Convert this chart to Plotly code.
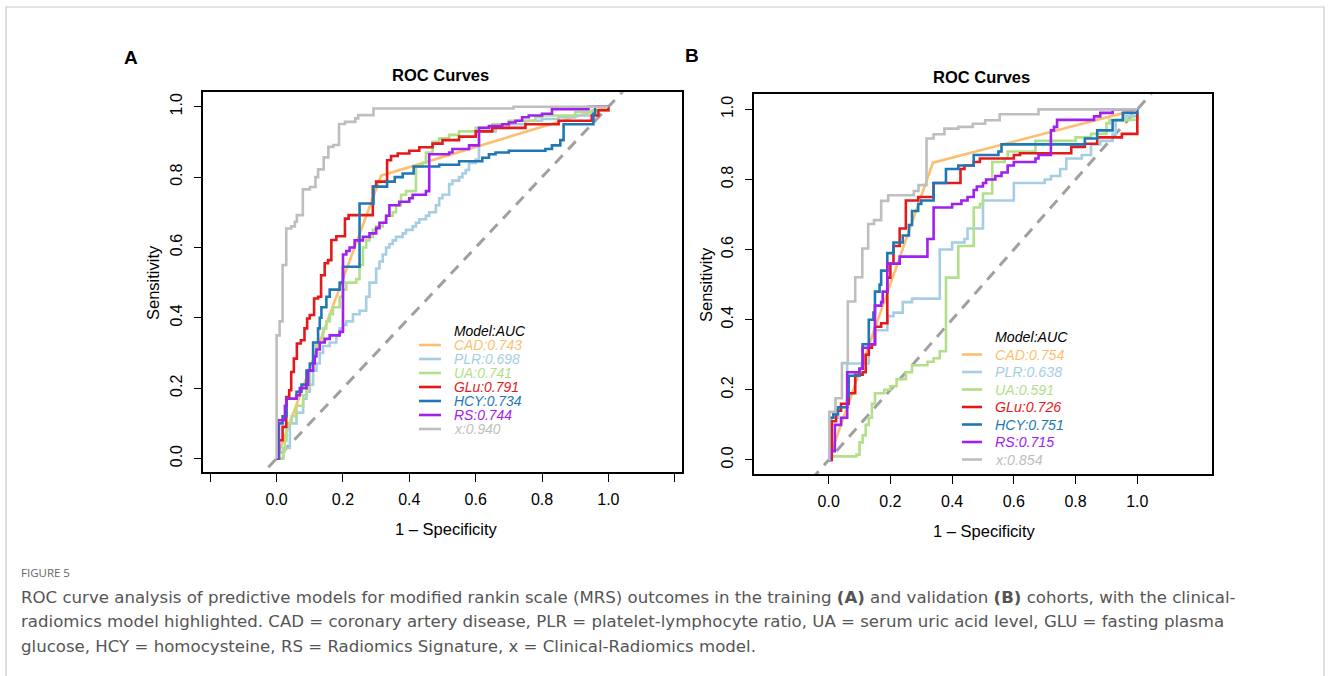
import plotly.graph_objects as go

W, H = 1330, 676

MODELS = ["CAD", "PLR", "UA", "GLu", "HCY", "RS", "x"]
COLORS = ["#FDBF6F", "#A6CEE3", "#B2DF8A", "#E31A1C", "#1F78B4", "#A020F0", "#BEBEBE"]
AUC_A = [0.743, 0.698, 0.741, 0.791, 0.734, 0.744, 0.940]
AUC_B = [0.754, 0.638, 0.591, 0.726, 0.751, 0.715, 0.854]

# Panel A (training) ROC vertices (1-specificity, sensitivity)
A_CAD = [(0, 0), (0.315, 0.804), (1, 1)]
A_PLR = [(0, 0), (0.02, 0.03), (0.04, 0.10), (0.06, 0.13), (0.08, 0.17), (0.09, 0.19), (0.10, 0.21),
         (0.11, 0.25), (0.12, 0.27), (0.13, 0.30), (0.14, 0.32), (0.16, 0.33), (0.18, 0.35), (0.19, 0.37),
         (0.20, 0.38), (0.21, 0.39), (0.23, 0.41), (0.25, 0.42), (0.27, 0.46), (0.28, 0.50), (0.30, 0.54),
         (0.31, 0.56), (0.32, 0.58), (0.33, 0.60), (0.34, 0.61), (0.35, 0.62), (0.36, 0.63), (0.38, 0.64),
         (0.39, 0.65), (0.41, 0.66), (0.42, 0.67), (0.43, 0.68), (0.45, 0.69), (0.46, 0.70), (0.48, 0.72),
         (0.49, 0.74), (0.50, 0.75), (0.52, 0.78), (0.53, 0.79), (0.55, 0.80), (0.56, 0.81), (0.57, 0.82),
         (0.58, 0.84), (0.60, 0.85), (0.61, 0.93), (0.66, 0.94), (0.70, 0.95), (0.75, 0.96), (0.80, 0.965),
         (0.85, 0.97), (0.90, 0.975), (0.95, 0.98), (0.96, 0.99), (1.0, 1.0)]
A_UA = [(0, 0), (0.02, 0.02), (0.025, 0.05), (0.03, 0.10), (0.045, 0.12), (0.06, 0.15), (0.08, 0.18),
        (0.09, 0.20), (0.10, 0.25), (0.11, 0.30), (0.12, 0.33), (0.14, 0.37), (0.15, 0.39), (0.16, 0.41),
        (0.17, 0.43), (0.19, 0.46), (0.20, 0.48), (0.21, 0.50), (0.24, 0.51), (0.25, 0.55), (0.26, 0.60),
        (0.27, 0.62), (0.28, 0.63), (0.29, 0.65), (0.30, 0.66), (0.32, 0.67), (0.33, 0.69), (0.35, 0.70),
        (0.36, 0.72), (0.375, 0.75), (0.39, 0.76), (0.42, 0.83), (0.44, 0.84), (0.45, 0.87), (0.47, 0.90),
        (0.49, 0.91), (0.52, 0.92), (0.55, 0.93), (0.60, 0.94), (0.65, 0.95), (0.70, 0.96), (0.78, 0.97),
        (0.80, 0.975), (0.90, 0.985), (0.95, 0.99), (1.0, 1.0)]
A_GLU = [(0, 0), (0.007, 0.052), (0.018, 0.09), (0.029, 0.175), (0.038, 0.194), (0.044, 0.246),
         (0.052, 0.284), (0.061, 0.327), (0.073, 0.336), (0.084, 0.37), (0.092, 0.398), (0.100, 0.408),
         (0.113, 0.455), (0.125, 0.46), (0.134, 0.521), (0.145, 0.555), (0.155, 0.564), (0.165, 0.621),
         (0.180, 0.632), (0.206, 0.682), (0.217, 0.692), (0.290, 0.773), (0.300, 0.787), (0.333, 0.848),
         (0.345, 0.86), (0.365, 0.867), (0.40, 0.875), (0.43, 0.885), (0.47, 0.895), (0.50, 0.905),
         (0.55, 0.915), (0.60, 0.93), (0.65, 0.94), (0.75, 0.95), (0.85, 0.96), (0.95, 0.975),
         (0.97, 0.99), (1.0, 1.0)]
A_HCY = [(0, 0), (0.007, 0.10), (0.018, 0.12), (0.030, 0.17), (0.060, 0.19), (0.075, 0.21), (0.090, 0.25),
         (0.100, 0.27), (0.110, 0.33), (0.125, 0.37), (0.130, 0.40), (0.135, 0.43), (0.150, 0.46),
         (0.160, 0.48), (0.190, 0.50), (0.200, 0.545), (0.250, 0.725), (0.292, 0.773), (0.333, 0.787),
         (0.356, 0.80), (0.380, 0.81), (0.413, 0.83), (0.49, 0.835), (0.55, 0.845), (0.62, 0.855),
         (0.64, 0.865), (0.66, 0.87), (0.70, 0.875), (0.81, 0.88), (0.83, 0.89), (0.855, 0.905),
         (0.865, 0.95), (0.955, 0.98), (0.96, 1.0), (1.0, 1.0)]
A_RS = [(0, 0), (0.003, 0.109), (0.02, 0.11), (0.025, 0.15), (0.03, 0.17), (0.06, 0.18), (0.07, 0.20),
        (0.09, 0.21), (0.095, 0.25), (0.11, 0.27), (0.115, 0.29), (0.12, 0.31), (0.13, 0.33), (0.145, 0.34),
        (0.16, 0.35), (0.19, 0.36), (0.20, 0.58), (0.21, 0.59), (0.22, 0.60), (0.235, 0.62), (0.26, 0.63),
        (0.28, 0.64), (0.30, 0.655), (0.31, 0.67), (0.33, 0.69), (0.34, 0.72), (0.37, 0.73), (0.40, 0.74),
        (0.41, 0.75), (0.45, 0.76), (0.46, 0.865), (0.52, 0.87), (0.53, 0.88), (0.58, 0.89), (0.61, 0.94),
        (0.64, 0.945), (0.68, 0.95), (0.70, 0.955), (0.72, 0.96), (0.74, 0.97), (0.76, 0.975), (0.80, 0.98),
        (0.83, 0.993), (0.94, 1.0), (1.0, 1.0)]
A_X = [(0, 0), (0, 0.35), (0.009, 0.39), (0.018, 0.55), (0.029, 0.654), (0.044, 0.66), (0.055, 0.673),
       (0.061, 0.692), (0.079, 0.765), (0.10, 0.772), (0.117, 0.80), (0.125, 0.822), (0.142, 0.856),
       (0.156, 0.886), (0.171, 0.891), (0.188, 0.951), (0.206, 0.957), (0.237, 0.967), (0.246, 0.976),
       (0.292, 0.995), (0.714, 1.0), (1.0, 1.0)]

# Panel B (validation)
B_CAD = [(0, 0), (0.338, 0.848), (1, 1)]
B_PLR = [(0, 0), (0.01, 0.12), (0.03, 0.15), (0.06, 0.275), (0.13, 0.33), (0.15, 0.37), (0.19, 0.38),
         (0.19, 0.41), (0.21, 0.42), (0.24, 0.45), (0.27, 0.46), (0.36, 0.47), (0.36, 0.60), (0.40, 0.62),
         (0.44, 0.63), (0.45, 0.66), (0.50, 0.67), (0.50, 0.74), (0.60, 0.75), (0.60, 0.79), (0.70, 0.80),
         (0.72, 0.81), (0.75, 0.83), (0.77, 0.86), (0.82, 0.87), (0.85, 0.90), (0.88, 0.91), (0.92, 0.93),
         (0.93, 0.97), (0.96, 0.98), (1.0, 1.0)]
B_UA = [(0, 0), (0.005, 0.01), (0.09, 0.015), (0.10, 0.05), (0.11, 0.07), (0.12, 0.10), (0.13, 0.12),
        (0.14, 0.16), (0.15, 0.19), (0.18, 0.20), (0.20, 0.21), (0.22, 0.23), (0.25, 0.25), (0.27, 0.27),
        (0.32, 0.28), (0.34, 0.29), (0.36, 0.31), (0.38, 0.32), (0.38, 0.52), (0.42, 0.55), (0.42, 0.61),
        (0.47, 0.63), (0.47, 0.72), (0.49, 0.73), (0.50, 0.76), (0.53, 0.77), (0.53, 0.85), (0.57, 0.86),
        (0.58, 0.88), (0.67, 0.89), (0.67, 0.91), (0.79, 0.91), (0.80, 0.92), (0.85, 0.93), (0.90, 0.96),
        (0.91, 0.97), (1.0, 0.97), (1.0, 1.0)]
B_GLU = [(0, 0), (0.01, 0.11), (0.024, 0.14), (0.04, 0.16), (0.065, 0.19), (0.086, 0.243), (0.11, 0.25),
         (0.12, 0.30), (0.13, 0.32), (0.14, 0.33), (0.15, 0.38), (0.17, 0.39), (0.19, 0.40), (0.19, 0.52),
         (0.20, 0.56), (0.21, 0.61), (0.23, 0.66), (0.25, 0.74), (0.29, 0.75), (0.34, 0.79), (0.427, 0.83),
         (0.44, 0.84), (0.47, 0.85), (0.49, 0.86), (0.60, 0.87), (0.62, 0.875), (0.786, 0.893),
         (0.83, 0.902), (0.87, 0.92), (0.95, 0.93), (1.0, 0.99)]
B_HCY = [(0, 0), (0.002, 0.12), (0.015, 0.13), (0.03, 0.15), (0.06, 0.18), (0.065, 0.24), (0.10, 0.26),
         (0.11, 0.33), (0.13, 0.35), (0.13, 0.40), (0.145, 0.42), (0.15, 0.48), (0.165, 0.50), (0.17, 0.54),
         (0.19, 0.55), (0.19, 0.59), (0.21, 0.62), (0.24, 0.64), (0.26, 0.67), (0.27, 0.71), (0.29, 0.73),
         (0.30, 0.74), (0.34, 0.76), (0.34, 0.79), (0.38, 0.80), (0.38, 0.83), (0.42, 0.84), (0.47, 0.85),
         (0.47, 0.87), (0.55, 0.88), (0.56, 0.90), (0.83, 0.917), (0.87, 0.94), (0.92, 0.969),
         (0.953, 0.99), (1.0, 1.0)]
B_RS = [(0, 0), (0.005, 0.025), (0.02, 0.10), (0.04, 0.12), (0.06, 0.25), (0.10, 0.26), (0.11, 0.32),
        (0.13, 0.33), (0.15, 0.35), (0.15, 0.44), (0.17, 0.45), (0.175, 0.48), (0.19, 0.50), (0.19, 0.56),
        (0.23, 0.58), (0.32, 0.58), (0.32, 0.63), (0.34, 0.63), (0.34, 0.72), (0.40, 0.73), (0.43, 0.74),
        (0.45, 0.75), (0.47, 0.77), (0.48, 0.78), (0.50, 0.79), (0.51, 0.80), (0.54, 0.81), (0.56, 0.82),
        (0.58, 0.84), (0.60, 0.85), (0.67, 0.86), (0.68, 0.87), (0.72, 0.90), (0.72, 0.94), (0.73, 0.95),
        (0.74, 0.97), (0.86, 0.98), (0.88, 0.99), (0.92, 1.0), (1.0, 1.0)]
B_X = [(0, 0), (0.002, 0.137), (0.022, 0.176), (0.043, 0.276), (0.062, 0.452), (0.086, 0.521),
       (0.109, 0.603), (0.128, 0.673), (0.147, 0.684), (0.17, 0.739), (0.193, 0.755), (0.276, 0.767),
       (0.291, 0.784), (0.317, 0.917), (0.34, 0.929), (0.375, 0.945), (0.42, 0.95), (0.467, 0.959),
       (0.507, 0.969), (0.554, 0.986), (0.68, 1.0), (1.0, 1.0)]

CURVES_A = [A_CAD, A_PLR, A_UA, A_GLU, A_HCY, A_RS, A_X]
CURVES_B = [B_CAD, B_PLR, B_UA, B_GLU, B_HCY, B_RS, B_X]

X_TICKS_A = [-0.2, 0.0, 0.2, 0.4, 0.6, 0.8, 1.0, 1.2]
X_TICKS_B = [0.0, 0.2, 0.4, 0.6, 0.8, 1.0]
Y_TICKS = [0.0, 0.2, 0.4, 0.6, 0.8, 1.0]
DIAG = [-0.3, 1.3]

CAPTION_LABEL = "FIGURE 5"
CAPTION_LINES = [
    "ROC curve analysis of predictive models for modified rankin scale (MRS) outcomes in the training <b>(A)</b> and validation <b>(B)</b> cohorts, with the clinical-",
    "radiomics model highlighted. CAD = coronary artery disease, PLR = platelet-lymphocyte ratio, UA = serum uric acid level, GLU = fasting plasma",
    "glucose, HCY = homocysteine, RS = Radiomics Signature, x = Clinical-Radiomics model.",
]


def fx(px):
    return px / W


def fy(py):
    return 1 - py / H


FONT = "Liberation Sans, Arial, Helvetica, sans-serif"
fig = go.Figure()

for xa, ya, curves in [("x", "y", CURVES_A), ("x2", "y2", CURVES_B)]:
    fig.add_trace(go.Scatter(x=DIAG, y=DIAG, mode="lines", xaxis=xa, yaxis=ya,
                             line=dict(color="#A0A0A0", width=3, dash="11px,8px"),
                             showlegend=False, hoverinfo="skip"))
    for name, color, pts in zip(MODELS, COLORS, curves):
        xs = [p[0] for p in pts]
        ys = [p[1] for p in pts]
        shape = "linear" if name == "CAD" else "hv"
        fig.add_trace(go.Scatter(x=xs, y=ys, mode="lines", xaxis=xa, yaxis=ya, name=name,
                                 line=dict(color=color, width=2.6, shape=shape),
                                 showlegend=False))

axis_common = dict(showline=True, linecolor="black", linewidth=1.5, mirror=True,
                   ticks="outside", ticklen=8, tickwidth=1.2, tickcolor="black",
                   showgrid=False, zeroline=False,
                   tickfont=dict(family=FONT, size=16, color="black"))


def fmt(v):
    return f"{v:.1f}"


fig.update_layout(
    width=W, height=H, margin=dict(l=0, r=0, t=0, b=0),
    paper_bgcolor="white", plot_bgcolor="white", showlegend=False,
    xaxis=dict(domain=[fx(203.3), fx(681.7)], range=[-0.221, 1.221], anchor="y",
               tickvals=X_TICKS_A, ticktext=[fmt(v) if 0 <= v <= 1 else "" for v in X_TICKS_A],
               ticklabelstandoff=4, **axis_common),
    yaxis=dict(domain=[fy(471.9), fy(92.3)], range=[-0.038, 1.041], anchor="x",
               tickvals=Y_TICKS, ticktext=[fmt(v) for v in Y_TICKS], tickangle=-90,
               ticklabelstandoff=5, **axis_common),
    xaxis2=dict(domain=[fx(754.3), fx(1212.3)], range=[-0.241, 1.243], anchor="y2",
                tickvals=X_TICKS_B, ticktext=[fmt(v) for v in X_TICKS_B],
                ticklabelstandoff=4, **axis_common),
    yaxis2=dict(domain=[fy(473.9), fy(94.3)], range=[-0.040, 1.043], anchor="x2",
                tickvals=Y_TICKS, ticktext=[fmt(v) for v in Y_TICKS], tickangle=-90,
                ticklabelstandoff=5, **axis_common),
)

ann = []
shapes = []


def text(px, py, s, size, color="black", xanchor="center", textangle=0, family=FONT):
    ann.append(dict(x=fx(px), y=fy(py), xref="paper", yref="paper", text=s, showarrow=False,
                    xanchor=xanchor, yanchor="middle", textangle=textangle,
                    font=dict(family=family, size=size, color=color)))


# panel labels, titles, axis titles
text(131, 57, "<b>A</b>", 19)
text(692, 56, "<b>B</b>", 19)
text(441, 75, "<b>ROC Curves</b>", 16.5)
text(981, 77, "<b>ROC Curves</b>", 16.5)
text(446, 529, "1 \u2013 Specificity", 16.5)
text(984, 531, "1 \u2013 Specificity", 16.5)
text(153, 283, "Sensitivity", 16.5, textangle=-90)
text(706, 285, "Sensitivity", 16.5, textangle=-90)

# legends
for aucs, tx, title_y, y0, dy, lx0, lx1, fs in [
        (AUC_A, 452, 331.0, 345.0, 14.0, 419, 441, 13.9),
        (AUC_B, 993, 337.0, 354.5, 17.5, 962, 982, 14.2)]:
    text(tx, title_y, "<i>Model:AUC</i>", fs, xanchor="left")
    for i, (name, color, auc) in enumerate(zip(MODELS, COLORS, aucs)):
        yy = y0 + i * dy
        text(tx, yy, f"<i>{name}:{auc:.3f}</i>", fs, color=color, xanchor="left")
        shapes.append(dict(type="line", xref="paper", yref="paper", x0=fx(lx0), x1=fx(lx1),
                           y0=fy(yy), y1=fy(yy), line=dict(color=color, width=2.6)))

# outer frame
shapes.append(dict(type="rect", xref="paper", yref="paper", x0=fx(6), x1=fx(1324), y0=fy(700), y1=fy(7),
                   line=dict(color="#C8C8C8", width=1.2), fillcolor="rgba(0,0,0,0)", layer="below"))

# caption
text(19, 572, CAPTION_LABEL, 11.5, color="#666666", xanchor="left", family="Open Sans, sans-serif")
for i, line in enumerate(CAPTION_LINES):
    text(19, 597 + i * 24.5, line, 16.6, color="#555555", xanchor="left",
         family="DejaVu Sans, Verdana, sans-serif")

fig.update_layout(annotations=ann, shapes=shapes)
fig.write_html("out.html", config={"displayModeBar": False},
               post_script="document.body.style.margin='0px';document.body.style.padding='0px';")
